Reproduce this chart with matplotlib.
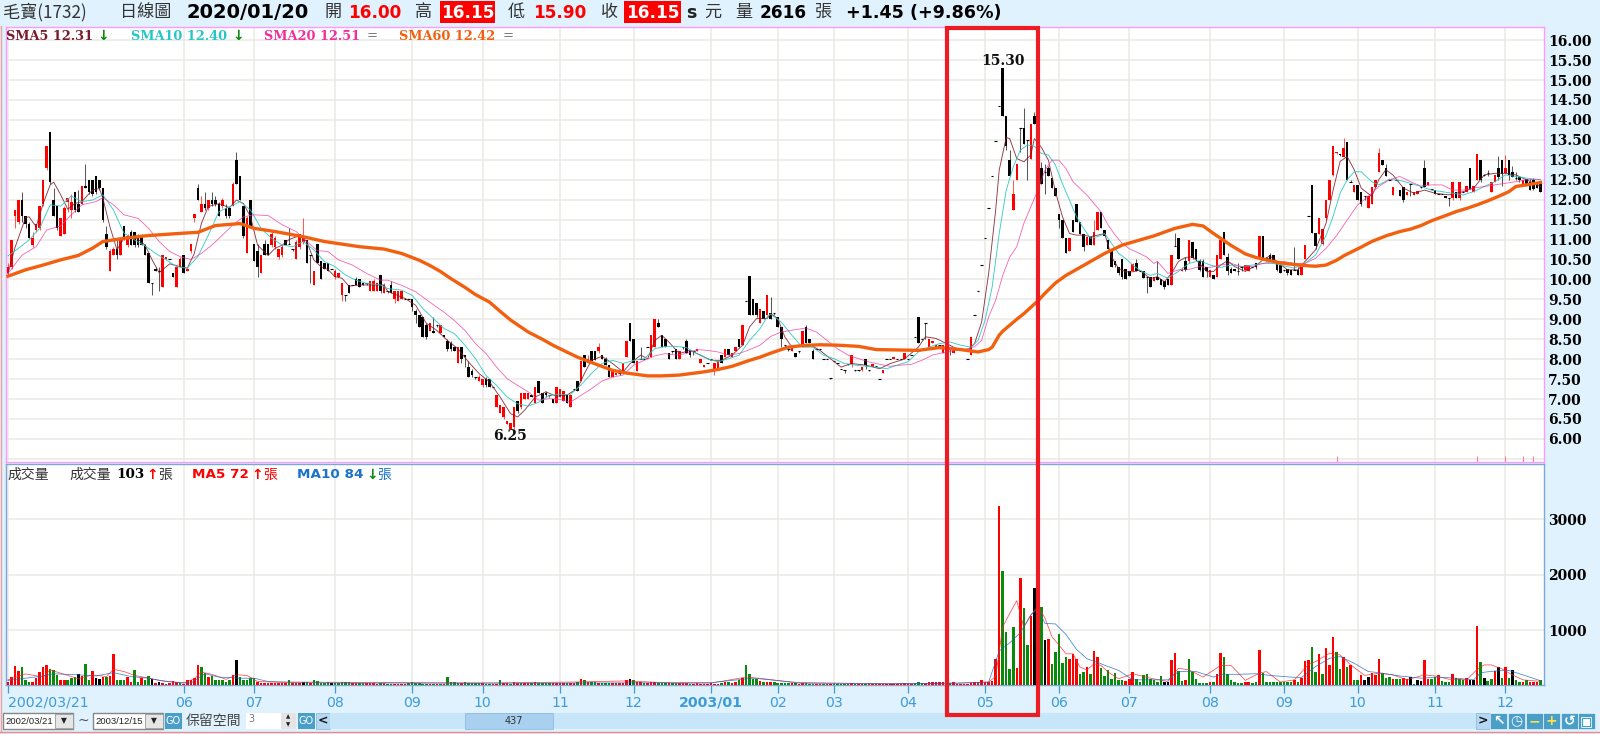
import numpy as np
import matplotlib
matplotlib.use('Agg')
import matplotlib.pyplot as plt
from matplotlib.patches import Rectangle

CJK = ['Noto Sans CJK TC', 'DejaVu Sans']
plt.rcParams['font.family'] = ['DejaVu Sans']

# Daily candles, 437 sessions
opens = [
 10.15,10.3,11.6,11.45,12.0,11.6,11.4,10.85,11.25,11.3,
 11.9,12.8,13.7,12.0,11.85,11.1,11.15,11.95,11.75,12.2,
 11.9,11.9,12.35,12.5,12.5,12.6,12.5,12.3,11.15,10.2,
 10.6,10.75,10.6,11.35,10.85,11.2,11.2,11.1,11.1,10.85,
 10.65,9.9,10.25,10.2,9.8,10.5,10.5,10.15,9.8,10.3,
 10.6,10.2,10.7,11.55,12.3,11.7,11.9,11.8,12.0,12.0,
 11.9,11.85,11.8,11.8,11.85,13.0,12.6,11.85,10.65,12.0,
 10.9,10.7,10.15,10.9,10.9,10.85,10.8,10.55,10.6,11.0,
 10.9,10.75,10.5,10.8,10.95,11.0,10.6,9.85,10.9,10.45,
 10.4,10.4,10.25,10.05,10.05,9.6,9.6,9.85,9.85,10.0,
 10.0,9.9,9.9,9.7,9.7,9.7,10.1,9.65,9.7,9.85,
 9.5,9.45,9.5,9.5,9.5,9.5,9.2,9.1,9.05,8.85,
 8.7,8.7,8.85,8.65,8.6,8.45,8.4,8.3,7.9,8.3,
 8.1,7.8,7.7,7.55,7.45,7.35,7.5,7.5,7.3,6.8,
 6.65,6.55,6.37,6.25,6.3,6.95,6.8,7.0,7.0,7.1,
 6.9,7.45,7.15,7.15,7.1,7.0,6.9,7.05,6.95,7.1,
 6.8,7.25,7.45,7.45,8.1,7.9,8.2,8.2,8.2,8.1,
 8.0,7.85,7.55,7.6,7.65,7.7,8.05,8.9,8.5,7.7,
 8.0,8.0,8.3,8.05,8.3,8.9,8.6,8.5,8.15,8.2,
 8.25,8.0,8.3,8.45,8.2,8.2,8.2,7.9,7.8,7.9,
 8.0,7.7,7.75,8.1,8.05,8.25,8.05,8.2,8.5,8.35,
 9.45,10.09,9.5,9.4,8.9,9.2,9.1,9.15,9.15,9.05,
 8.8,8.35,8.25,8.2,8.15,8.2,8.35,8.8,8.5,8.2,
 8.25,8.25,8.0,8.0,7.52,7.95,7.9,7.75,7.72,7.87,
 7.87,7.72,7.72,7.72,8.0,7.72,7.8,7.82,7.5,7.65,
 8.0,8.0,8.0,8.0,8.0,8.0,8.0,8.1,8.55,9.05,
 8.5,8.9,8.3,8.4,8.3,8.35,8.15,8.3,8.3,8.15,
 8.25,8.25,8.25,8.0,8.1,9.1,9.7,10.35,11.05,11.8,
 12.6,13.47,14.35,15.3,14.1,13.0,11.75,12.5,13.8,13.8,
 13.5,13.03,14.1,13.8,12.8,12.7,12.8,12.55,12.3,11.65,
 11.5,11.05,10.7,11.5,11.9,11.45,11.15,10.85,11.07,10.85,
 11.25,11.7,11.25,11.0,10.7,10.45,10.3,10.5,10.25,10.2,
 10.2,10.42,10.2,10.2,10.05,10.05,9.95,10.05,10.0,9.95,
 10.0,9.86,10.83,11.05,10.2,10.45,10.45,10.95,10.75,10.45,
 10.45,10.3,10.05,10.1,10.05,10.5,11.2,10.55,10.25,10.25,
 10.2,10.3,10.24,10.2,10.3,10.4,10.53,11.1,10.53,10.6,
 10.6,10.45,10.36,10.24,10.27,10.24,10.24,10.24,10.1,10.5,
 11.6,12.37,11.16,11.15,10.9,11.53,12.0,12.62,13.18,13.15,
 13.08,13.45,12.45,12.2,12.37,12.2,12.1,11.8,11.9,12.31,
 12.7,13.0,12.8,12.5,12.12,12.5,12.24,12.31,12.12,12.4,
 12.12,12.15,12.32,12.8,12.37,12.26,12.24,12.15,12.15,12.1,
 12.03,12.03,12.2,12.03,12.2,12.2,12.8,12.2,12.5,13.0,
 12.62,12.66,12.2,12.45,12.8,13.0,12.66,13.0,12.7,12.55,
 12.58,12.4,12.53,12.45,12.5,12.45,12.4,
]
closes = [
 10.3,11.0,11.75,12.0,11.6,11.4,11.05,11.05,11.4,11.85,
 12.5,13.35,12.45,11.6,11.3,11.55,11.8,12.05,11.95,11.75,
 11.7,12.35,12.3,12.2,12.15,12.2,12.3,11.5,10.8,10.7,
 10.75,10.6,11.0,11.0,11.1,10.85,10.85,10.85,10.85,10.6,
 9.9,9.9,10.2,10.2,10.6,10.55,10.5,10.05,10.3,10.5,
 10.15,10.25,10.9,11.65,12.0,11.9,11.8,12.0,11.9,11.9,
 11.6,12.0,11.6,11.6,12.4,12.4,12.0,11.1,11.55,11.35,
 10.45,10.3,10.6,10.6,10.6,11.15,11.05,10.75,10.8,10.85,
 10.9,10.75,10.95,11.15,11.1,10.4,10.6,10.2,10.4,10.0,
 10.25,10.2,10.25,10.2,10.15,9.9,9.6,9.65,9.85,9.85,
 9.8,9.85,9.9,9.95,9.95,9.9,9.7,9.85,9.7,9.65,
 9.7,9.7,9.7,9.5,9.5,9.3,9.1,8.8,8.55,8.55,
 8.9,8.65,8.85,8.85,8.55,8.25,8.25,8.2,8.3,8.0,
 8.05,7.55,7.6,7.55,7.55,7.5,7.35,7.3,7.3,7.1,
 6.85,6.8,6.45,6.4,6.8,6.7,7.15,7.15,7.15,7.05,
 7.3,7.15,6.9,7.1,7.1,6.9,7.3,7.25,7.2,6.9,
 7.1,7.25,7.2,7.95,7.8,8.0,7.95,7.97,8.3,8.0,
 7.85,7.55,7.7,7.65,7.65,7.9,8.45,8.45,7.9,7.95,
 8.0,8.0,8.3,8.6,9.0,8.8,8.3,8.3,8.0,8.2,
 8.0,8.2,8.3,8.15,8.1,8.2,8.25,8.0,7.85,7.9,
 8.0,7.9,7.95,7.9,8.25,8.1,8.15,8.3,8.3,8.85,
 9.45,9.1,9.1,9.1,9.25,9.0,9.6,9.0,9.15,8.8,
 8.5,8.35,8.25,8.3,8.05,8.2,8.7,8.4,8.4,8.0,
 8.25,8.25,8.0,8.0,7.52,7.95,7.9,7.75,7.72,7.87,
 8.1,7.72,7.72,7.8,7.85,7.72,7.87,7.82,7.5,7.72,
 8.0,8.0,8.05,8.0,8.0,8.15,8.0,8.1,8.55,8.4,
 8.5,8.9,8.5,8.45,8.35,8.35,8.35,8.3,8.25,8.25,
 8.25,8.25,8.25,8.0,8.55,9.1,9.7,10.35,11.05,11.8,
 12.6,13.47,14.35,14.1,13.35,12.6,12.15,12.9,13.8,13.4,
 13.5,13.9,13.9,14.1,12.4,12.7,12.6,12.3,12.1,11.5,
 11.03,10.67,11.03,11.2,11.45,11.15,10.8,11.07,10.85,11.2,
 11.7,11.3,11.1,10.75,10.3,10.35,10.15,10.05,10.0,10.08,
 10.38,10.2,10.2,10.03,10.05,9.8,10.05,9.98,9.86,9.8,
 9.86,10.6,10.83,10.5,10.24,10.24,11.0,10.53,10.5,10.24,
 10.05,10.2,10.24,10.0,10.6,11.0,10.6,10.2,10.15,10.2,
 10.2,10.3,10.36,10.36,10.3,10.3,11.1,10.53,10.53,10.45,
 10.45,10.24,10.15,10.24,10.15,10.12,10.24,10.1,10.3,10.85,
 11.6,11.16,10.83,11.55,11.26,12.0,12.5,13.35,13.2,13.12,
 13.3,12.5,12.45,12.37,12.0,11.9,12.1,12.1,12.31,12.5,
 13.18,12.87,12.6,12.5,12.31,12.5,12.08,12.0,12.2,12.4,
 12.2,12.22,12.32,12.32,12.45,12.26,12.15,12.15,12.15,12.03,
 12.03,12.45,12.03,12.45,12.2,12.33,12.26,12.33,13.15,12.5,
 12.62,12.66,12.43,12.62,12.58,12.65,12.8,12.62,12.58,12.55,
 12.5,12.5,12.37,12.25,12.27,12.28,12.2,
]
highs = [
 10.4,11.0,11.75,12.0,12.2,11.6,11.45,11.2,11.4,11.85,
 12.5,13.35,13.7,12.3,11.85,11.55,11.85,12.05,12.15,12.2,
 12.25,12.35,12.9,12.5,12.5,12.6,12.5,12.3,11.35,10.75,
 10.8,11.0,11.05,11.35,11.15,11.25,11.2,11.15,11.15,10.9,
 10.65,9.9,10.3,10.3,10.6,10.55,10.5,10.15,10.3,10.55,
 10.6,10.25,10.9,11.65,12.4,12.1,12.2,12.0,12.2,12.1,
 11.95,12.05,11.9,11.8,12.45,13.2,12.6,11.85,11.6,12.0,
 10.9,10.9,10.6,11.0,10.9,11.25,11.1,10.75,10.85,11.0,
 11.3,10.75,11.0,11.15,11.55,11.0,10.6,10.2,10.9,10.45,
 10.4,10.4,10.25,10.25,10.15,9.9,9.6,9.85,9.85,10.05,
 10.0,9.9,9.9,9.95,10.0,9.9,10.1,9.9,9.7,9.95,
 9.7,9.7,9.7,9.5,9.5,9.5,9.25,9.1,9.05,8.9,
 8.9,9.05,8.85,8.85,8.6,8.5,8.45,8.3,8.3,8.3,
 8.1,7.95,7.75,7.55,7.6,7.5,7.55,7.5,7.3,7.1,
 6.85,6.8,6.45,6.4,6.8,6.95,7.15,7.15,7.15,7.1,
 7.3,7.45,7.15,7.2,7.1,7.0,7.3,7.25,7.2,7.1,
 7.1,7.25,7.45,7.95,8.1,8.1,8.2,8.2,8.4,8.1,
 8.05,7.85,7.7,7.65,7.65,7.9,8.45,8.9,8.5,7.95,
 8.3,8.0,8.3,8.6,9.0,9.0,8.6,8.5,8.15,8.2,
 8.25,8.2,8.3,8.5,8.2,8.2,8.25,8.0,7.85,7.9,
 8.0,7.9,7.95,8.1,8.25,8.25,8.15,8.3,8.5,8.85,
 9.45,10.09,9.5,9.4,9.25,9.2,9.6,9.55,9.15,9.05,
 8.8,8.35,8.25,8.3,8.15,8.2,8.7,8.85,8.5,8.25,
 8.25,8.25,8.0,8.0,7.52,7.95,7.9,7.75,7.72,7.87,
 8.1,7.72,7.72,7.8,8.0,7.72,7.87,7.82,7.5,7.72,
 8.0,8.0,8.05,8.0,8.0,8.15,8.0,8.1,8.55,9.05,
 8.5,8.9,8.5,8.45,8.35,8.35,8.35,8.3,8.3,8.25,
 8.25,8.25,8.25,8.0,8.55,9.1,9.7,10.35,11.05,11.8,
 12.6,13.47,14.35,15.3,14.1,13.25,12.5,12.9,13.8,14.3,
 13.5,13.9,14.2,14.15,12.95,12.9,12.85,12.55,12.3,11.65,
 11.5,11.05,11.03,11.5,11.9,11.45,11.15,11.07,11.1,11.5,
 11.7,11.7,11.25,11.0,10.7,10.45,10.3,10.5,10.25,10.2,
 10.4,10.5,10.2,10.2,10.05,10.05,10.05,10.45,10.0,9.95,
 10.0,10.6,11.16,11.05,10.3,10.55,11.0,10.95,10.75,10.5,
 10.5,10.3,10.24,10.1,10.6,11.0,11.2,10.65,10.3,10.25,
 10.4,10.3,10.36,10.36,10.3,10.4,11.1,11.1,10.55,10.65,
 10.6,10.45,10.36,10.24,10.27,10.24,10.8,10.3,10.3,10.85,
 11.6,12.37,11.16,11.55,11.26,12.0,12.5,13.35,13.2,13.15,
 13.55,13.45,12.5,12.37,12.37,12.2,12.1,12.1,12.31,12.5,
 13.3,13.0,12.9,12.5,12.31,12.5,12.24,12.31,12.2,12.4,
 12.2,12.22,12.32,13.0,12.45,12.26,12.24,12.15,12.15,12.1,
 12.03,12.45,12.2,12.45,12.2,12.33,12.8,12.33,13.15,13.0,
 12.62,12.75,12.43,12.62,13.1,13.0,13.12,13.0,12.85,12.7,
 12.58,12.5,12.53,12.53,12.55,12.45,12.45,
]
lows = [
 10.1,10.25,11.3,11.4,11.45,11.3,11.05,10.8,11.2,11.25,
 11.85,12.75,12.4,11.6,11.25,11.1,11.15,11.7,11.55,11.7,
 11.7,11.9,12.3,12.15,12.1,12.15,12.25,11.45,10.75,10.2,
 10.6,10.5,10.6,11.0,10.8,10.85,10.8,10.8,10.85,10.6,
 9.9,9.6,10.2,9.7,9.8,10.5,10.5,10.05,9.8,10.3,
 10.15,10.2,10.65,11.45,12.0,11.7,11.75,11.75,11.85,11.85,
 11.6,11.8,11.55,11.55,11.85,12.4,12.0,11.05,10.65,11.3,
 10.45,10.05,10.15,10.6,10.6,10.8,10.75,10.5,10.55,10.85,
 10.9,10.7,10.5,10.75,10.9,10.4,9.9,9.85,10.4,10.0,
 10.25,10.2,10.25,10.0,10.05,9.45,9.45,9.65,9.85,9.85,
 9.8,9.85,9.85,9.7,9.7,9.7,9.65,9.65,9.65,9.65,
 9.4,9.45,9.5,9.5,9.5,9.2,8.9,8.8,8.55,8.5,
 8.7,8.65,8.8,8.65,8.55,8.2,8.2,8.2,7.9,7.9,
 7.8,7.55,7.55,7.5,7.45,7.3,7.3,7.3,7.3,6.8,
 6.65,6.5,6.37,6.25,6.25,6.65,6.75,7.0,7.0,7.05,
 6.9,7.15,6.9,7.05,7.05,6.9,6.9,7.05,6.95,6.9,
 6.8,7.25,7.2,7.45,7.8,7.9,7.95,7.97,8.15,8.0,
 7.85,7.55,7.55,7.6,7.6,7.7,8.05,8.45,7.9,7.7,
 8.0,8.0,8.3,8.05,8.3,8.8,8.3,8.3,8.0,8.15,
 8.0,8.0,8.25,8.15,8.05,8.1,8.2,7.9,7.8,7.9,
 8.0,7.6,7.75,7.9,8.05,8.1,8.05,8.2,8.3,8.35,
 9.45,9.1,9.1,9.05,8.9,9.0,9.1,9.0,9.1,8.8,
 8.3,8.3,8.2,8.2,8.05,8.15,8.35,8.4,8.4,8.0,
 8.25,8.25,8.0,8.0,7.5,7.95,7.9,7.75,7.65,7.85,
 7.8,7.7,7.7,7.7,7.75,7.7,7.8,7.8,7.5,7.65,
 8.0,8.0,8.0,8.0,8.0,8.0,8.0,8.1,8.55,8.4,
 8.5,8.5,8.3,8.4,8.3,8.35,8.15,8.25,8.1,8.15,
 8.25,8.25,8.25,8.0,8.1,9.1,9.7,10.35,11.05,11.8,
 12.6,13.47,14.35,14.1,13.25,12.6,11.75,12.5,13.2,13.4,
 12.5,13.03,13.9,13.4,12.4,12.15,12.6,12.3,12.1,11.3,
 11.03,10.65,10.7,11.2,11.45,11.15,10.7,10.85,10.85,10.85,
 11.25,11.3,11.1,10.75,10.3,10.3,10.1,10.0,10.0,10.08,
 10.2,10.2,10.2,10.03,9.65,9.8,9.95,9.98,9.86,9.75,
 9.86,9.86,10.83,10.5,10.2,10.2,10.4,10.5,10.45,10.2,
 10.05,10.05,10.05,10.0,10.05,10.5,10.6,10.1,10.15,10.2,
 10.1,10.2,10.2,10.2,10.3,10.25,10.53,10.53,10.45,10.45,
 10.4,10.2,10.15,10.2,10.1,10.1,10.24,10.1,10.1,10.5,
 11.6,11.16,10.75,11.15,10.85,11.5,12.0,12.6,13.15,13.1,
 13.08,12.5,12.45,12.2,12.0,11.85,12.0,11.8,11.9,12.31,
 12.7,12.87,12.6,12.5,12.12,12.5,12.08,11.95,12.12,12.1,
 12.12,12.15,12.3,12.32,12.37,12.25,12.15,12.15,12.15,12.03,
 11.85,12.0,12.03,12.0,12.2,12.2,12.26,12.2,12.5,12.45,
 12.6,12.6,12.2,12.45,12.5,12.35,12.66,12.5,12.58,12.5,
 12.45,12.4,12.35,12.25,12.25,12.28,12.2,
]

volumes = [
 60,150,350,260,340,100,70,70,130,240,
 340,370,300,270,180,100,100,90,130,150,
 200,170,380,90,260,130,110,160,160,170,
 570,90,90,90,150,60,270,60,130,100,
 170,120,40,60,40,30,50,80,70,40,
 30,100,100,130,370,330,220,160,170,100,
 100,90,70,100,190,460,160,90,100,130,
 130,70,50,45,45,50,45,45,50,50,
 90,50,50,45,70,60,50,90,80,50,
 45,70,50,45,40,70,60,55,50,45,
 40,40,35,35,35,30,45,35,30,30,
 30,30,30,30,40,70,45,35,30,30,
 30,30,30,30,30,150,70,60,50,50,
 60,50,40,40,40,35,30,30,30,30,
 90,50,40,30,60,45,50,50,45,45,
 60,50,45,50,40,40,45,35,40,40,
 40,45,60,120,90,60,70,60,50,45,
 50,45,40,35,40,50,90,120,100,70,
 60,50,45,60,70,50,45,50,40,35,
 40,35,35,40,30,30,35,30,30,30,
 35,30,30,40,60,60,50,70,90,140,
 370,200,120,110,80,60,70,60,55,50,
 50,45,40,35,35,30,45,50,30,30,
 30,30,30,25,25,30,30,25,25,30,
 40,25,30,25,30,25,30,25,25,30,
 25,25,30,25,25,35,25,30,35,60,
 40,50,60,60,70,65,70,60,50,60,
 30,30,30,30,40,60,60,100,70,70,
 80,470,3244,2058,957,298,1054,310,1944,1399,
 730,1260,1762,1500,1423,824,835,380,612,927,
 400,510,475,565,470,206,250,330,200,620,
 520,310,170,280,120,220,100,90,80,120,
 250,120,60,180,210,120,90,60,170,70,
 60,460,580,260,80,90,475,250,120,50,
 50,50,60,60,210,580,510,210,90,60,
 40,40,70,70,50,60,640,230,70,70,
 70,60,70,60,70,60,100,60,130,443,
 460,702,250,570,210,670,370,870,600,295,
 520,340,370,100,100,190,100,160,220,190,
 480,220,130,150,110,110,110,130,110,160,
 30,90,80,460,110,110,150,180,80,60,
 60,210,130,110,90,130,100,90,1078,430,
 140,80,120,260,330,130,340,130,270,100,
 70,60,90,65,70,60,103,
]
volume_kinds = (
 "rrrrgggrrr" "rrgggrrggg" "krggrkkrgr" "rgggrrggrg" "gkrkrrrrrg"
 "rrrrrggrgg" "ggggrkgggg" "grrrrrrrrr" "grrrkgrggg" "ggkgggggrr"
 "ggrrrrgrgg" "rrrrgggggg" "rgrgrggggr" "gggggrggrr" "grrgrrgrrg"
 "rggggrrrrg" "rrgrgrggrg" "ggrrrrrkgr" "rgrrrgggrg" "grrrgrrrrr"
 "rrrgrgrrgr" "ggggrgrrgg" "gggrgrrggg" "rrgrrggggr" "rgrrgrrrrr"
 "rrrrrrrrgg" "grrrrrrrgr" "rrrrrrrrrr" "rrrggggrrg" "grkrgkrggg"
 "ggrrrggrgr" "rgggggggrr" "rggggggggk" "krrggrggg" "g" "ggrgrrgggg"
 "ggrrggrggg" "ggggggrgrr" "rggrgrrrgg" "rgrggrkkrr" "rgggrggrrk"
 "gkkrrggrgg" "grgggrkkrg" "kggrkgrgkg" "grgrrrg"
)

# Moving averages at the sessions listed
sma5_days = [0,2,5,6,8,10,12,13,15,17,19,21,24,26,27,29,31,33,36,39,41,43,46,49,51,53,55,57,60,63,65,67,69,71,74,76,78,80,83,85,87,89,91,93,95,97,100,107,
 108,113,116,119,122,125,128,131,134,137,140,143,145,147,150,153,156,159,162,164,166,169,172,175,177,180,182,184,186,188,191,194,197,200,203,206,209,211,213,216,
 217,219,221,223,226,228,231,234,237,240,244,248,251,255,259,261,264,267,270,273,275,277,279,281,282,284,285,287,289,291,292,294,296,298,300,302,304,306,308,310,312,314,316,318,320,322,325,
 327,329,331,333,335,337,339,341,343,345,347,349,352,355,357,359,361,364,367,369,372,375,377,379,381,383,385,388,390,392,394,397,400,403,406,410,414,417,420,423,426,429,432,436]
sma5_vals = [10.15,10.8,11.55,11.57,11.32,11.9,12.37,12.44,12.12,11.76,11.9,11.95,12.24,12.28,12.03,11.32,10.74,11.03,11.07,10.86,10.49,10.17,10.39,10.32,10.28,10.65,11.4,11.83,11.9,11.8,11.99,11.9,11.57,10.86,10.6,10.78,10.86,11.0,11.1,10.95,10.49,10.32,10.25,10.07,10.03,9.83,9.86,9.86,
 9.7,9.52,9.35,8.9,8.72,8.47,8.26,7.93,7.64,7.43,7.05,6.63,6.55,6.72,7.05,7.18,7.07,7.1,7.26,7.64,7.97,8.07,7.89,7.68,7.89,8.1,8.01,8.47,8.6,8.43,8.14,8.22,8.1,7.97,7.97,8.1,8.35,8.81,9.02,9.02,
 9.14,9.02,8.56,8.3,8.35,8.37,8.22,8.01,7.8,7.89,7.85,7.76,7.89,8.0,8.3,8.56,8.52,8.39,8.26,8.22,8.39,8.93,10.15,11.74,12.74,13.56,13.53,13.03,12.95,13.12,13.53,13.31,12.99,12.2,11.57,11.15,11.11,11.11,11.07,11.11,11.15,10.56,10.27,10.19,10.19,10.23,10.02,
 10.07,9.94,10.15,10.45,10.55,10.57,10.4,10.2,10.2,10.36,10.47,10.32,10.2,10.34,10.49,10.59,10.45,10.24,10.24,10.45,10.74,11.41,12.24,12.96,13.08,12.75,12.29,12.08,12.5,12.75,12.62,12.29,12.16,12.24,12.16,12.12,12.2,12.29,12.62,12.66,12.66,12.62,12.5,12.33]

sma10_days = [0,3,6,9,12,15,18,21,24,27,30,33,36,39,42,45,48,51,54,57,60,63,66,69,72,75,78,81,84,87,90,93,96,99,102,106,
 108,112,115,118,121,124,127,130,133,136,139,142,145,148,151,154,157,160,163,166,169,172,175,178,181,184,187,190,193,196,199,202,205,208,211,214,216,
 217,220,223,226,229,232,235,238,241,244,247,250,253,256,259,262,265,268,271,274,276,278,280,282,284,286,288,290,292,294,296,298,300,302,304,306,308,310,312,314,316,318,320,322,325,
 327,330,333,336,339,342,345,348,351,354,357,360,363,366,369,372,375,377,379,381,383,385,388,390,393,396,399,402,405,408,411,414,417,420,423,426,429,432,436]
sma10_vals = [10.59,10.78,10.99,11.28,11.87,11.84,12.09,11.95,11.99,12.12,11.74,11.16,10.99,10.84,10.65,10.49,10.32,10.28,10.57,11.11,11.7,11.82,11.95,11.74,11.28,11.03,10.86,10.82,10.95,10.74,10.45,10.32,10.11,9.98,9.9,9.86,
 9.77,9.73,9.6,9.27,9.02,8.77,8.64,8.35,8.01,7.59,7.34,7.05,6.88,6.82,6.92,7.09,7.12,7.11,7.35,7.64,7.89,7.97,7.89,7.97,8.01,8.26,8.32,8.32,8.29,8.14,8.01,7.93,8.01,8.1,8.47,8.77,9.06,
 9.13,8.93,8.6,8.3,8.3,8.1,8.01,7.89,7.85,7.82,7.8,7.76,7.85,7.93,8.18,8.3,8.39,8.43,8.35,8.3,8.47,8.98,9.81,11.15,12.24,12.82,13.24,13.37,13.34,13.16,13.12,12.87,12.4,11.99,11.57,11.28,11.03,11.07,11.15,10.9,10.65,10.52,10.36,10.23,10.1,
 10.15,10.03,10.2,10.4,10.47,10.36,10.3,10.36,10.32,10.36,10.4,10.4,10.34,10.28,10.4,10.61,11.1,11.58,12.16,12.5,12.7,12.7,12.45,12.37,12.51,12.48,12.41,12.33,12.24,12.2,12.16,12.12,12.2,12.33,12.45,12.62,12.58,12.54,12.5]

sma20_days = [0,4,8,11,15,18,21,25,27,30,33,37,40,43,46,49,52,55,58,61,64,67,70,74,78,82,85,88,91,94,98,102,106,
 108,112,116,120,124,127,130,133,136,139,142,145,148,151,154,157,160,163,166,169,172,175,178,181,184,187,190,193,196,199,202,205,208,211,214,217,
 220,224,227,230,233,236,239,242,245,248,251,254,257,260,263,266,269,272,275,277,279,281,283,285,287,289,291,293,295,297,299,301,303,305,307,309,311,313,315,317,319,321,324,326,
 327,330,333,336,339,342,345,348,351,354,357,360,363,366,369,372,375,378,381,384,387,390,393,396,399,402,405,408,411,414,417,420,423,426,429,432,436]
sma20_vals = [10.15,10.61,10.82,11.24,11.34,11.62,11.87,11.95,12.05,11.87,11.62,11.53,11.28,10.95,10.7,10.57,10.5,10.65,10.86,11.11,11.37,11.57,11.62,11.6,11.37,11.2,10.95,10.72,10.7,10.49,10.36,10.15,9.98,
 9.98,9.85,9.69,9.43,9.18,8.97,8.72,8.39,8.14,7.8,7.51,7.34,7.18,6.97,7.01,6.99,6.92,7.09,7.26,7.45,7.55,7.6,7.85,7.97,8.08,8.14,8.1,8.14,8.24,8.22,8.18,8.1,8.14,8.24,8.35,8.57,
 8.68,8.74,8.78,8.68,8.47,8.26,8.1,8.01,7.93,7.87,7.82,7.85,7.87,7.97,8.1,8.16,8.21,8.24,8.31,8.47,9.06,9.48,10.1,10.56,10.82,11.4,11.82,12.24,12.74,12.99,12.99,12.78,12.45,12.28,12.11,11.9,11.69,11.36,11.11,10.9,10.77,10.69,10.56,10.4,
 10.45,10.15,10.24,10.25,10.32,10.3,10.36,10.4,10.32,10.32,10.4,10.45,10.45,10.4,10.4,10.53,10.78,11.1,11.49,11.87,12.08,12.33,12.5,12.58,12.45,12.34,12.37,12.37,12.24,12.24,12.29,12.33,12.37,12.41,12.45,12.5,12.51]

sma60_days = [0,5,10,15,20,24,27,30,33,40,50,54,59,66,70,76,84,90,100,107,112,117,120,123,126,130,133,137,140,143,146,148,152,155,158,162,165,168,172,176,182,186,191,198,202,206,211,214,217,222,226,231,236,242,247,259,265,271,276,279,280,282,283,285,287,289,291,293,295,298,301,304,308,312,317,326,332,337,340,343,345,348,352,355,358,361,364,370,372,375,378,380,382,385,388,392,396,399,402,405,409,412,415,418,421,424,427,429,432,436]
sma60_vals = [10.08,10.24,10.36,10.49,10.6,10.78,10.95,10.99,11.03,11.1,11.16,11.18,11.35,11.4,11.28,11.2,11.07,10.95,10.82,10.76,10.65,10.48,10.35,10.2,10.02,9.8,9.62,9.43,9.2,8.98,8.8,8.68,8.5,8.35,8.22,8.05,7.95,7.85,7.72,7.65,7.58,7.58,7.6,7.68,7.74,7.82,7.97,8.05,8.15,8.3,8.34,8.36,8.35,8.32,8.24,8.22,8.29,8.24,8.18,8.24,8.3,8.6,8.7,8.85,9.0,9.14,9.3,9.46,9.65,9.91,10.1,10.25,10.45,10.65,10.86,11.09,11.28,11.38,11.34,11.15,11.03,10.85,10.64,10.55,10.49,10.43,10.39,10.34,10.33,10.36,10.48,10.59,10.68,10.81,10.95,11.09,11.2,11.26,11.35,11.47,11.6,11.7,11.78,11.87,11.97,12.08,12.2,12.33,12.37,12.43]

vma5_days = [0,5,10,12,15,20,24,28,30,33,36,40,43,50,53,55,58,62,65,68,71,80,100,115,135,160,176,190,200,210,215,225,250,270,279,281,283,285,287,289,291,293,295,297,299,301,303,305,307,309,311,313,316,320,325,330,333,336,340,345,348,352,356,358,362,366,370,372,376,379,382,386,390,394,398,403,406,410,415,418,420,422,425,428,431,436]
vma5_vals = [100,207,150,280,220,120,190,160,290,250,180,130,90,40,120,240,200,110,190,180,70,50,40,40,40,60,80,40,40,150,120,40,30,40,60,160,1060,1300,1530,1050,1270,1430,1220,880,730,570,570,330,280,390,360,240,120,210,130,70,310,280,150,360,360,90,220,250,60,100,380,430,580,550,370,180,220,190,100,190,170,110,100,290,370,370,300,190,100,72]
vma10_days = [0,5,10,13,20,25,30,35,40,45,52,56,60,66,70,74,80,110,150,200,212,225,250,270,279,282,285,288,291,293,295,298,301,304,307,310,313,316,320,330,333,338,343,345,350,355,359,365,368,372,376,379,383,387,390,396,402,407,412,417,419,423,427,431,436]
vma10_vals = [90,130,170,210,190,170,230,160,130,70,40,210,150,130,130,70,60,50,40,50,130,50,30,40,60,620,770,950,1270,1390,1120,1110,920,650,480,415,340,270,100,100,250,250,150,200,200,210,180,150,140,340,490,520,400,250,230,170,130,150,130,100,230,260,270,190,84]

# Month axis
tick_days = [0,50,70,93,115,135,157,178,200,219,235,256,278,299,319,342,363,384,406,426]
tick_labels = ['2002/03/21','06','07','08','09','10','11','12','2003/01','02','03','04','05','06','07','08','09','10','11','12']
price_ticks = [6+0.5*k for k in range(21)]
volume_ticks = [1000,2000,3000]
event_days = [378,418,426,431,434]

BG = '#dff2fd'
W, H = 1600, 734
fig = plt.figure(figsize=(16, 7.34), dpi=100, facecolor=BG)

def panel(top, bottom, edge):
    ax = fig.add_axes([6/W, 1-bottom/H, 1538/W, (bottom-top)/H], facecolor='white')
    for s in ax.spines.values():
        s.set_color(edge)
        s.set_linewidth(1.0)
    ax.set_xlim(-0.57, 437)
    ax.set_axisbelow(True)
    ax.set_xticks(tick_days)
    ax.grid(True, color='#e9e9e4', linewidth=1.1)
    ax.yaxis.tick_right()
    return ax

# price panel
ax = panel(27, 462, '#ff99ff')
ax.set_ylim(5.42, 16.33)
ax.set_yticks([5.5] + price_ticks)
ax.set_yticklabels([''] + ['%.2f' % p for p in price_ticks], family='DejaVu Serif', weight='bold', fontsize=10)
ax.tick_params(axis='y', length=0, pad=3)
ax.tick_params(axis='x', length=0, labelbottom=False)

x = np.arange(len(opens))
o, c, h, l = map(np.array, (opens, closes, highs, lows))
up = c > o
flat = c == o
colors = np.where(up, '#ff0000', '#000000')
ax.vlines(x, l, h, colors=colors, linewidth=0.75, alpha=0.65, zorder=2)
solid = ~flat
ax.bar(x[solid], (c-o)[solid], bottom=o[solid], width=0.72, color=colors[solid], linewidth=0, zorder=3)
ax.hlines(o[flat], x[flat]-0.35, x[flat]+0.35, colors='#000000', linewidth=0.8, zorder=3)

ax.plot(sma5_days, sma5_vals, color='#7a1a2a', linewidth=0.65, alpha=0.85, zorder=4)
ax.plot(sma10_days, sma10_vals, color='#27c6c6', linewidth=0.65, alpha=0.9, zorder=4)
ax.plot(sma20_days, sma20_vals, color='#f02f9c', linewidth=0.6, alpha=0.75, zorder=4)
ax.plot(sma60_days, sma60_vals, color='#f2600f', linewidth=2.4, zorder=5)
ax.vlines(event_days, 5.42, 5.58, colors='#ff80a0', linewidth=0.8, zorder=4)

# volume panel
vx = panel(464, 684.5, '#7fa6d8')
vx.set_ylim(16, 4000)
vx.set_yticks(volume_ticks)
vx.set_yticklabels(['%d' % v for v in volume_ticks], family='DejaVu Serif', weight='bold', fontsize=10)
vx.tick_params(axis='y', length=0, pad=3)
vx.set_xticklabels(tick_labels, fontsize=10.2, color='#3f9bd8')
vx.tick_params(axis='x', length=6, width=0.9, color='#3f9bd8', pad=2)
labels = vx.get_xticklabels()
labels[0].set_horizontalalignment('left')
labels[8].set_fontweight('bold')

palette = {'r': '#ff0000', 'g': '#0a8a0a', 'k': '#000000'}
vx.bar(x, volumes, width=0.72, color=[palette[k] for k in volume_kinds], linewidth=0, zorder=3)
vx.plot(vma5_days, vma5_vals, color='#ff2020', linewidth=0.55, alpha=0.8, zorder=4)
vx.plot(vma10_days, vma10_vals, color='#1565c0', linewidth=0.55, alpha=0.8, zorder=4)

# screen chrome in pixel coordinates
ui = fig.add_axes([0, 0, 1, 1], zorder=10)
ui.set_xlim(0, W)
ui.set_ylim(H, 0)
ui.axis('off')

def rect(x0, y0, x1, y1, fc, ec='none', lw=0.0, z=1):
    ui.add_patch(Rectangle((x0, y0), x1-x0, y1-y0, facecolor=fc, edgecolor=ec, linewidth=lw, zorder=z))

def put(px, py, s, size=10, color='black', weight='normal', family=None, ha='left', z=3):
    ui.text(px, py, s, fontsize=size, color=color, weight=weight, family=family or CJK, ha=ha, va='center', zorder=z)

# header
put(3, 12, '毛寶(1732)', 12.3, '#333333')
put(120, 12, '日線圖', 12.3, '#333333')
put(187, 12.5, '2020/01/20', 14, weight='bold', family='DejaVu Sans')
put(324, 12, '開', 12.3, '#333333')
put(348, 12.5, '16.00', 12.2, '#ff0000', 'bold', 'DejaVu Sans')
put(415, 12, '高', 12.3, '#333333')
rect(440, 1, 495, 23, '#ff0000')
put(441, 12.5, '16.15', 12.2, 'white', 'bold', 'DejaVu Sans')
put(508, 12, '低', 12.3, '#333333')
put(533, 12.5, '15.90', 12.2, '#ff0000', 'bold', 'DejaVu Sans')
put(601, 12, '收', 12.3, '#333333')
rect(624, 1, 681, 23, '#ff0000')
put(626, 12.5, '16.15', 12.2, 'white', 'bold', 'DejaVu Sans')
put(686, 13, 's', 12.6, '#222222', 'bold', 'DejaVu Sans')
put(704, 12, '元', 12.3, '#333333')
put(735, 12, '量', 12.3, '#333333')
put(760, 12.5, '2616', 12.2, 'black', 'bold', 'DejaVu Sans')
put(815, 12, '張', 12.3, '#333333')
put(846, 12.5, '+1.45 (+9.86%)', 12.6, 'black', 'bold', 'DejaVu Sans')

# price legend
serif = 'DejaVu Serif'
put(6, 36, 'SMA5 12.31', 9.3, '#7a1a2a', 'bold', serif)
put(97, 36, '↓', 10, '#0a8a0a', 'bold', 'DejaVu Sans')
put(131, 36, 'SMA10 12.40', 9.3, '#27c6c6', 'bold', serif)
put(232, 36, '↓', 10, '#0a8a0a', 'bold', 'DejaVu Sans')
put(264, 36, 'SMA20 12.51', 9.3, '#f02f9c', 'bold', serif)
put(367, 36, '=', 9.5, '#777777', 'normal', 'DejaVu Sans')
put(399, 36, 'SMA60 12.42', 9.3, '#f2600f', 'bold', serif)
put(503, 36, '=', 9.5, '#777777', 'normal', 'DejaVu Sans')

# volume legend
put(7, 475, '成交量', 10, '#333333')
put(69, 475, '成交量', 10, '#333333')
put(116, 475, '103', 9.7, 'black', 'bold', serif)
put(146, 475, '↑', 10, '#ff0000', 'bold', 'DejaVu Sans')
put(158, 475, '張', 10, '#333333')
put(192, 475, 'MA5 72', 9.7, '#ff0000', 'bold', 'DejaVu Sans')
put(251, 475, '↑', 10, '#ff0000', 'bold', 'DejaVu Sans')
put(263, 475, '張', 10, '#ff0000')
put(297, 475, 'MA10 84', 9.7, '#1a73c7', 'bold', 'DejaVu Sans')
put(366, 475, '↓', 10, '#0a8a0a', 'bold', 'DejaVu Sans')
put(377, 475, '張', 10, '#1a73c7')

# high / low notes
put(1003, 61, '15.30', 10, '#111111', 'bold', serif, ha='center')
put(510, 436, '6.25', 10, '#111111', 'bold', serif, ha='center')

# control strip
rect(3, 713, 73, 729, 'white', '#888888', 1)
put(5, 721, '2002/03/21', 6.8, '#222222', family='Liberation Sans')
rect(55, 714, 73, 728, '#e6e6e6', '#999999', 0.6, 2)
put(64, 721, '▼', 5.5, '#222222', family='DejaVu Sans', ha='center')
put(83, 721, '~', 10, '#555555', family='DejaVu Sans', ha='center')
rect(93, 713, 163, 729, 'white', '#888888', 1)
put(95, 721, '2003/12/15', 6.8, '#222222', family='Liberation Sans')
rect(145, 714, 163, 728, '#e6e6e6', '#999999', 0.6, 2)
put(154, 721, '▼', 5.5, '#222222', family='DejaVu Sans', ha='center')
rect(165, 713, 182, 729, '#4a9fc8')
put(173.5, 721, 'GO', 7, 'white', family='DejaVu Sans', ha='center')
put(186, 721, '保留空間', 10, '#444444')
rect(246, 713, 281, 729, 'white')
put(248, 719, '3', 7, '#777777', family='DejaVu Sans')
rect(281, 713, 296, 729, '#e4e4e4')
put(288.5, 716.5, '▲', 4, '#222222', family='DejaVu Sans', ha='center')
put(288.5, 725, '▼', 4, '#222222', family='DejaVu Sans', ha='center')
rect(298, 713, 315, 729, '#4a9fc8')
put(306.5, 721, 'GO', 7, 'white', family='DejaVu Sans', ha='center')
rect(316, 713, 330, 729, '#b4d8f2', '#8fbce0', 0.6)
put(323, 721, '<', 9, '#111111', 'bold', 'DejaVu Sans', ha='center')
rect(330, 713, 1476, 729, '#c8e6fa')
rect(465, 713, 553, 729, '#a9d0ee', '#8fbce0', 0.6, 2)
put(514, 721, '437', 7, '#333333', family='DejaVu Sans', ha='center')
rect(1476, 713, 1490, 729, '#b4d8f2', '#8fbce0', 0.6)
put(1483, 721, '>', 9, '#111111', 'bold', 'DejaVu Sans', ha='center')
for bx, glyph, col in [(1490, '↖', 'white'), (1508, '◷', 'white'), (1526, '−', '#ffe14d'), (1543, '+', '#ffe14d'), (1561, '↺', 'white'), (1578, '▣', 'white')]:
    rect(bx, 713, bx+17, 729, '#4a9fc8', 'white', 0.4)
    put(bx+8.5, 721, glyph, 10, col, 'bold', 'DejaVu Sans', ha='center')

# page edges
ui.plot([1, 1], [26, 732], color='#f4a0a0', linewidth=1.0)
ui.plot([0, W], [732, 732], color='#f08a8a', linewidth=1.0)

# highlight box
ui.add_patch(Rectangle((947, 28), 90.5, 686.5, fill=False, edgecolor='#ed1c24', linewidth=3.0, zorder=6))

fig.savefig('out.png', dpi=100, facecolor=BG)
